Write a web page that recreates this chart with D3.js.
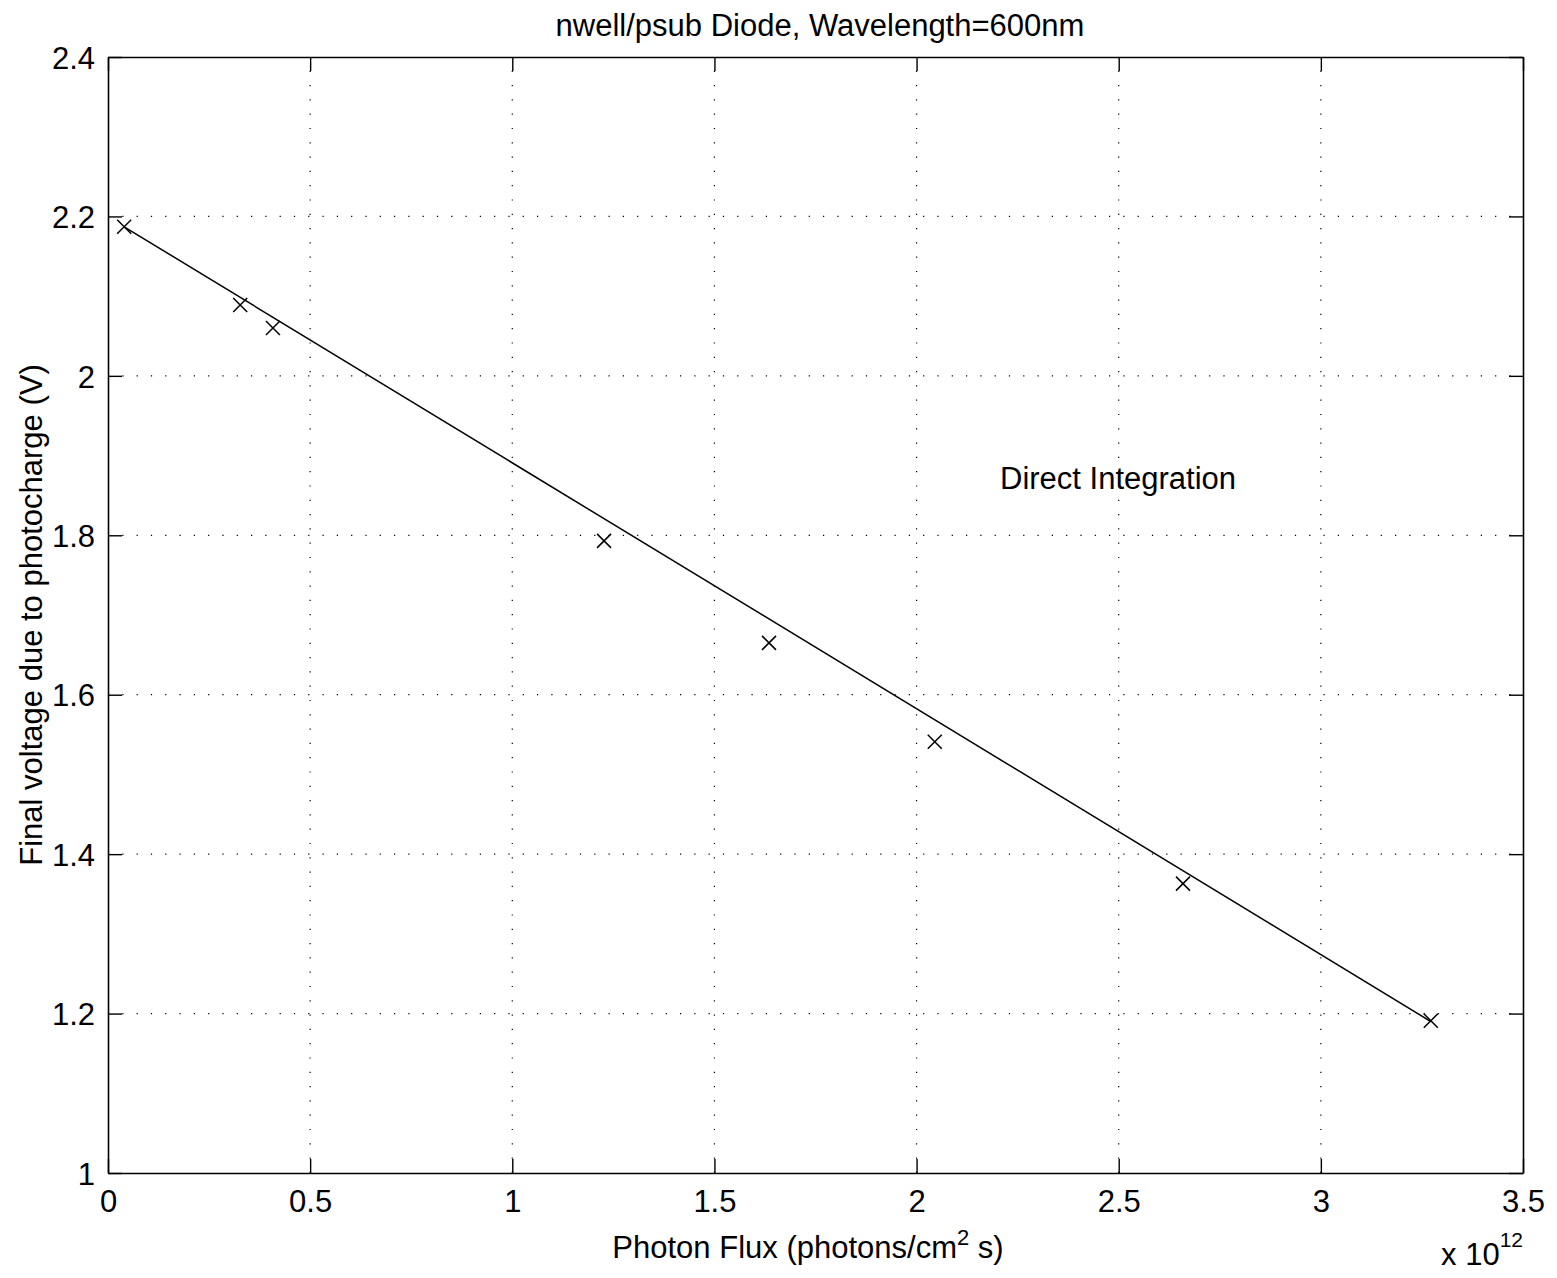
<!DOCTYPE html>
<html>
<head>
<meta charset="utf-8">
<script src="https://cdn.jsdelivr.net/npm/d3@7"></script>
<style>
  html, body { margin: 0; padding: 0; background: #fff; }
  svg { display: block; }
  text { font-family: "Liberation Sans", Arial, Helvetica, sans-serif; fill: #000; }
</style>
</head>
<body>
<svg id="chart" width="1557" height="1278"></svg>
<script>
// Measured photon flux (units of 1e12 photons/cm^2 s) and final voltage (V)
const photonFlux = [0.04, 0.327, 0.408, 1.227, 1.635, 2.045, 2.659, 3.272];
const finalVoltage = [2.187, 2.089, 2.060, 1.793, 1.665, 1.541, 1.363, 1.191];

// Straight-line fit through the measurements (end points)
const fitFlux = [0.04, 3.272];
const fitVoltage = [2.187, 1.190];

// Axis ticks
const xTicks = [0, 0.5, 1, 1.5, 2, 2.5, 3, 3.5];
const xTickLabels = ["0", "0.5", "1", "1.5", "2", "2.5", "3", "3.5"];
const yTicks = [1, 1.2, 1.4, 1.6, 1.8, 2, 2.2, 2.4];
const yTickLabels = ["1", "1.2", "1.4", "1.6", "1.8", "2", "2.2", "2.4"];

const titleText = "nwell/psub Diode, Wavelength=600nm";
const annotation = "Direct Integration";

const svg = d3.select("#chart");
const plotL = 108, plotR = 1523, plotT = 57, plotB = 1173;
const FS = 31;

const x = d3.scaleLinear().domain([0, 3.5]).range([plotL, plotR]);
const y = d3.scaleLinear().domain([1, 2.4]).range([plotB, plotT]);

// Dotted grid
const grid = svg.append("g")
  .attr("stroke", "#000").attr("stroke-width", 1.2)
  .attr("stroke-dasharray", "1.2,13.1").attr("fill", "none");
grid.selectAll("line.gx").data(xTicks.slice(1, -1)).join("line")
  .attr("x1", d => x(d)).attr("x2", d => x(d))
  .attr("y1", plotB).attr("y2", plotT);
grid.selectAll("line.gy").data(yTicks.slice(1, -1)).join("line")
  .attr("y1", d => y(d)).attr("y2", d => y(d))
  .attr("x1", plotL).attr("x2", plotR);

// Axes with inward ticks on all four sides
const tickLen = 14;
function styleAxis(g) {
  g.selectAll("path.domain").attr("stroke", "#000").attr("stroke-width", 1.6);
  g.selectAll(".tick line").attr("stroke", "#000").attr("stroke-width", 1.4);
  g.selectAll(".tick text").attr("font-size", FS).attr("font-family", "Liberation Sans, Arial, sans-serif").attr("fill", "#000");
  g.attr("font-size", FS);
}
const xAxis = svg.append("g").attr("transform", `translate(0,${plotB})`)
  .call(d3.axisBottom(x).tickValues(xTicks).tickSizeInner(-tickLen).tickSizeOuter(0)
    .tickPadding(10).tickFormat((d, i) => xTickLabels[i]));
styleAxis(xAxis);
xAxis.selectAll(".tick text").attr("y", 39).attr("dy", null);

const yAxis = svg.append("g").attr("transform", `translate(${plotL},0)`)
  .call(d3.axisLeft(y).tickValues(yTicks).tickSizeInner(-tickLen).tickSizeOuter(0)
    .tickPadding(13).tickFormat((d, i) => yTickLabels[i]));
styleAxis(yAxis);
yAxis.selectAll(".tick text").attr("x", -13).attr("dy", "0.36em");

const topAxis = svg.append("g").attr("transform", `translate(0,${plotT})`)
  .call(d3.axisTop(x).tickValues(xTicks).tickSizeInner(-tickLen).tickSizeOuter(0).tickFormat(""));
styleAxis(topAxis);
const rightAxis = svg.append("g").attr("transform", `translate(${plotR},0)`)
  .call(d3.axisRight(y).tickValues(yTicks).tickSizeInner(-tickLen).tickSizeOuter(0).tickFormat(""));
styleAxis(rightAxis);

// Fit line
const line = d3.line().x(d => x(d[0])).y(d => y(d[1]));
svg.append("path")
  .datum(fitFlux.map((f, i) => [f, fitVoltage[i]]))
  .attr("d", line).attr("fill", "none").attr("stroke", "#000").attr("stroke-width", 1.5);

// Cross markers
const m = 7;
const marks = svg.append("g").attr("stroke", "#000").attr("stroke-width", 1.5);
photonFlux.forEach((f, i) => {
  const cx = x(f), cy = y(finalVoltage[i]);
  marks.append("path").attr("d", `M${cx - m},${cy - m}L${cx + m},${cy + m}M${cx - m},${cy + m}L${cx + m},${cy - m}`);
});

// Title
svg.append("text").attr("x", 820).attr("y", 36)
  .attr("text-anchor", "middle").attr("font-size", FS).text(titleText);

// Annotation
svg.append("text").attr("x", 1000).attr("y", 489).attr("font-size", FS).text(annotation);

// Axis labels
const xl = svg.append("text").attr("x", 808).attr("y", 1258)
  .attr("text-anchor", "middle").attr("font-size", FS);
xl.append("tspan").text("Photon Flux (photons/cm");
xl.append("tspan").attr("font-size", 22).attr("dy", -13).text("2");
xl.append("tspan").attr("dy", 13).text(" s)");

svg.append("text").attr("transform", `translate(42,${(plotT + plotB) / 2}) rotate(-90)`)
  .attr("text-anchor", "middle").attr("font-size", FS)
  .text("Final voltage due to photocharge (V)");

// Exponent label for the x axis
const ex = svg.append("text").attr("x", plotR).attr("y", 1265)
  .attr("text-anchor", "end").attr("font-size", FS);
ex.append("tspan").text("x 10");
ex.append("tspan").attr("font-size", 21).attr("dy", -18).text("12");
</script>
</body>
</html>
